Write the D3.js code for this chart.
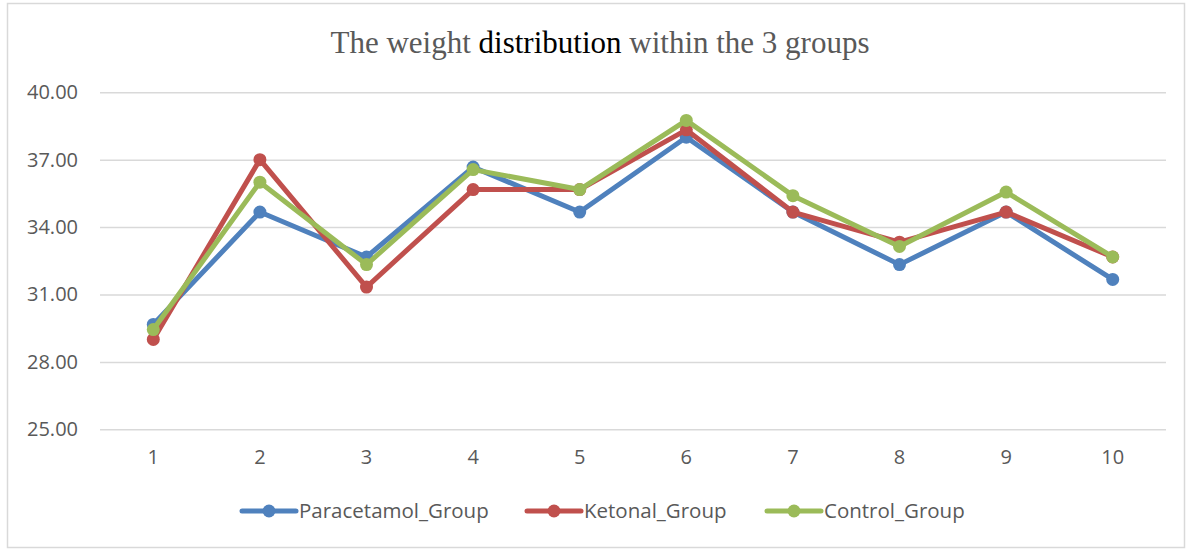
<!DOCTYPE html>
<html><head><meta charset="utf-8">
<script src="https://cdn.jsdelivr.net/npm/d3@7"></script>
<style>body{margin:0;background:#fff}</style>
</head><body>
<svg id="chart" width="1189" height="549"></svg>
<script>
const categories = ["1","2","3","4","5","6","7","8","9","10"];
const paracetamol = [29.67, 34.67, 32.67, 36.67, 34.67, 38.00, 34.67, 32.33, 34.67, 31.67];
const ketonal     = [29.00, 37.00, 31.33, 35.67, 35.67, 38.33, 34.67, 33.33, 34.67, 32.67];
const control     = [29.44, 36.00, 32.33, 36.56, 35.67, 38.75, 35.40, 33.14, 35.56, 32.67];
const yTicks = [25, 28, 31, 34, 37, 40];
const seriesNames = ["Paracetamol_Group", "Ketonal_Group", "Control_Group"];
const seriesColors = ["#4F81BD", "#C0504D", "#9BBB59"];

const series = [paracetamol, ketonal, control].map((v, i) => ({name: seriesNames[i], color: seriesColors[i], values: v}));

const svg = d3.select("#chart");
svg.append("rect").attr("x", 7.5).attr("y", 3.5).attr("width", 1177).attr("height", 544)
  .attr("fill", "#fff").attr("stroke", "#d9d9d9").attr("stroke-width", 1.5);

const x = d3.scaleBand().domain(categories).range([100, 1166]);
const y = d3.scaleLinear().domain([25, 40]).range([429.3, 92.3]);

// title
const title = svg.append("text").attr("x", 600).attr("y", 53).attr("text-anchor", "middle")
  .attr("font-family", "'Liberation Serif', 'Times New Roman', serif").attr("font-size", 31).attr("fill", "#595959");
title.append("tspan").text("The weight ");
title.append("tspan").attr("fill", "#000").text("distribution");
title.append("tspan").text(" within the 3 groups");

// grid
const yAxis = d3.axisLeft(y).tickValues(yTicks).tickSize(-(1166 - 100)).tickFormat(d3.format(".2f")).tickPadding(22);
const gy = svg.append("g").attr("transform", "translate(100,0)").call(yAxis);
gy.select(".domain").remove();
gy.selectAll(".tick line").attr("stroke", "#d9d9d9").attr("stroke-width", 1.5);
gy.selectAll(".tick text").attr("font-family", "'Open Sans', sans-serif").attr("font-size", 20).attr("fill", "#595959");

const xAxis = d3.axisBottom(x).tickSize(0).tickPadding(21);
const gx = svg.append("g").attr("transform", "translate(0,429.3)").call(xAxis);
gx.select(".domain").remove();
gx.selectAll(".tick text").attr("font-family", "'Open Sans', sans-serif").attr("font-size", 20).attr("fill", "#595959");

const line = d3.line().x((d, i) => x(categories[i]) + x.bandwidth() / 2).y(d => y(d));

series.forEach(s => {
  const g = svg.append("g");
  g.append("path").datum(s.values).attr("d", line).attr("fill", "none")
    .attr("stroke", s.color).attr("stroke-width", 5).attr("stroke-linejoin", "round").attr("stroke-linecap", "round");
  g.selectAll("circle").data(s.values).join("circle")
    .attr("cx", (d, i) => x(categories[i]) + x.bandwidth() / 2).attr("cy", d => y(d)).attr("r", 6.5)
    .attr("fill", s.color);
});

// legend
const legendX = [242, 527, 767];
const leg = svg.append("g");
series.forEach((s, i) => {
  const g = leg.append("g").attr("transform", `translate(${legendX[i]},511)`);
  g.append("line").attr("x1", 0).attr("x2", 54).attr("stroke", s.color).attr("stroke-width", 5).attr("stroke-linecap", "round");
  g.append("circle").attr("cx", 27).attr("r", 6.5).attr("fill", s.color);
  g.append("text").attr("x", 57).attr("y", 0).attr("dy", "0.35em")
    .attr("font-family", "'Open Sans', sans-serif").attr("font-size", 20.5).attr("fill", "#595959").text(s.name);
});
</script>
</body></html>
